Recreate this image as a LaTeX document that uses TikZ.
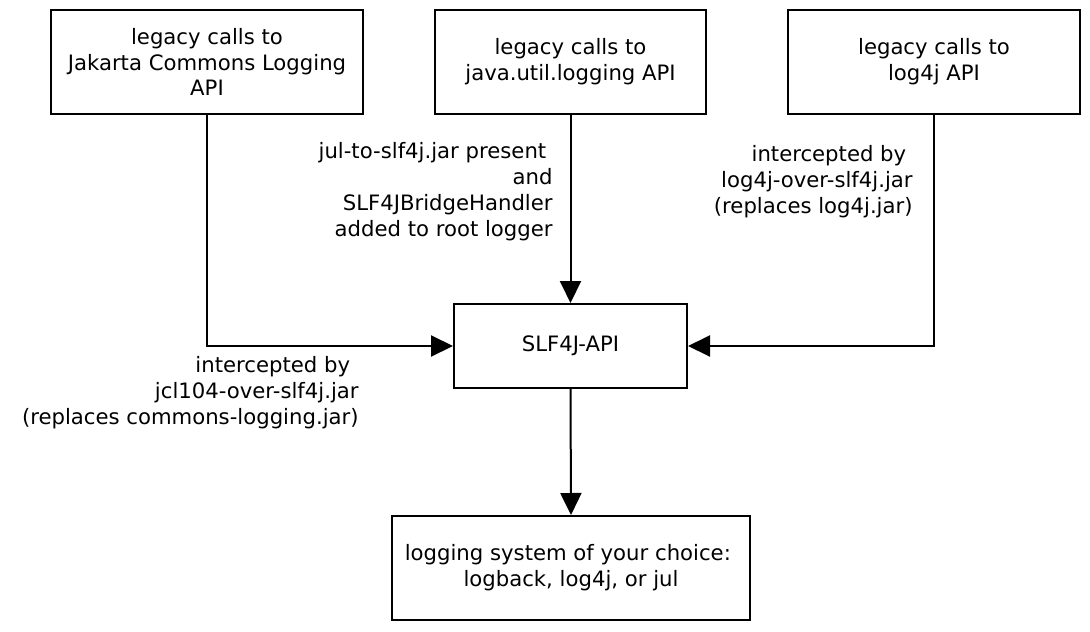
\documentclass[tikz,border=0pt]{standalone}
\usepackage{fontspec}
\setmainfont{DejaVu Sans}
\usetikzlibrary{positioning,arrows.meta}

\begin{document}
\begin{tikzpicture}[
  x=0.5pt,y=-0.5pt,
  font=\fontsize{10.6}{12.95}\selectfont,
  apibox/.style={draw=black,line width=1pt,align=center,inner sep=2pt},
  note/.style={align=right,inner sep=0pt},
  flow/.style={-{Triangle[length=11pt,width=10.5pt]},line width=1pt,draw=black}
]
\useasboundingbox (0,0) rectangle (1090,631);

% legacy APIs on top
\node[apibox,minimum width=156pt,minimum height=52pt] (jcl) at (207,62)
  {legacy calls to\\Jakarta Commons Logging\hspace*{.3em}\\API};
\node[apibox,minimum width=135.5pt,minimum height=52pt] (jul) at (570.5,62)
  {legacy calls to\\java.util.logging API};
\node[apibox,minimum width=146pt,minimum height=52pt] (logfourj) at (934,62)
  {legacy calls to\\log4j API};

% bridge and backend
\node[apibox,minimum width=116.5pt,minimum height=42pt] (slf) at (570.5,346) {SLF4J-API};
\node[apibox,minimum width=179pt,minimum height=52pt] (backend) at (571,568)
  {logging system of your choice:\hspace*{.3em}\\logback, log4j, or jul};

% notes beside the arrows
\node[note,anchor=north east] (julnote) at (553,142)
  {jul-to-slf4j.jar present\hspace*{.3em}\\and\hspace*{.3em}\\SLF4JBridgeHandler\hspace*{.3em}\\added to root logger};
\node[note,anchor=north east] (lognote) at (913,145)
  {intercepted by\hspace*{.3em}\\log4j-over-slf4j.jar\\(replaces log4j.jar)};
\node[note,anchor=north east] (jclnote) at (359,356)
  {intercepted by\hspace*{.4em}\\jcl104-over-slf4j.jar\hspace*{.2em}\\(replaces commons-logging.jar)};

\draw[flow] (jcl.south) |- (slf.west);
\draw[flow] (jul.south) -- (slf.north);
\draw[flow] (logfourj.south) |- (slf.east);
\draw[flow] (slf.south) -- (backend.north);
\end{tikzpicture}
\end{document}
